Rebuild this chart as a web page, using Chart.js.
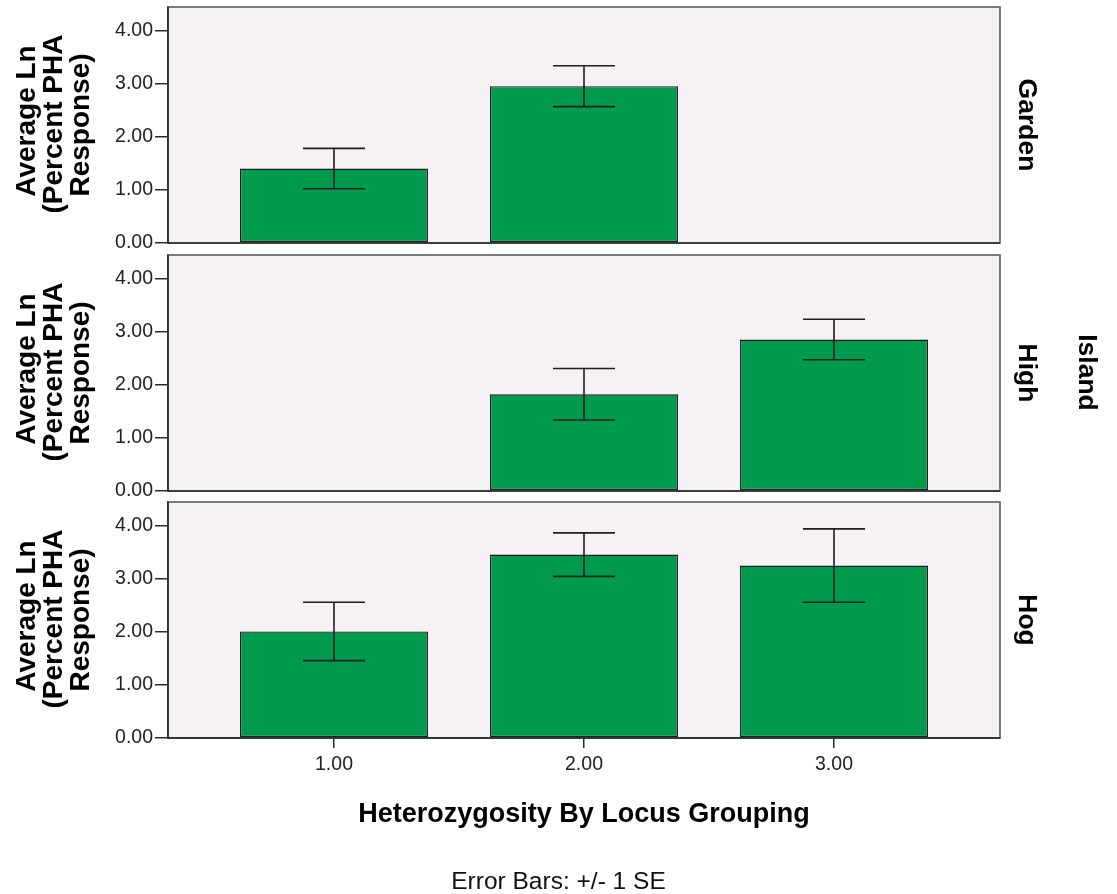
<!DOCTYPE html>
<html>
<head>
<meta charset="utf-8">
<script src="https://cdn.jsdelivr.net/npm/chart.js@4.4.0/dist/chart.umd.min.js"></script>
<style>
html, body { margin: 0; padding: 0; background: #ffffff; }
#wrap { position: relative; width: 1117px; height: 894px; overflow: hidden; }
#wrap canvas { position: absolute; left: 0; }
</style>
</head>
<body>
<div id="wrap">
  <canvas id="c0" width="1117" height="894"></canvas>
  <canvas id="c1" width="1117" height="894"></canvas>
  <canvas id="c2" width="1117" height="894"></canvas>
</div>
<script>
// ---------- data ----------
const categories = [1, 2, 3];
const xTickLabels = ['1.00', '2.00', '3.00'];
const yTicks = [0, 1, 2, 3, 4];
const yTickLabels = ['0.00', '1.00', '2.00', '3.00', '4.00'];
const panelNames = ['Garden', 'High', 'Hog'];
const facetTitle = 'Island';
const gardenMeans = [1.40, 2.95, null];
const gardenSE    = [0.38, 0.385, null];
const highMeans   = [null, 1.82, 2.85];
const highSE      = [null, 0.485, 0.38];
const hogMeans    = [2.005, 3.45, 3.245];
const hogSE       = [0.55, 0.41, 0.69];
const yTitleLines = ['Average Ln', '(Percent PHA', 'Response)'];
const xTitle = 'Heterozygosity By Locus Grouping';
const footnote = 'Error Bars: +/- 1 SE';

// ---------- layout / style ----------
const W = 1117, H = 894;
const PLOT_LEFT = 168, PLOT_RIGHT = 1000;
const PANEL_Y = [[7, 243], [255, 491], [502, 738]];
const CANVAS_SHIFT = [40, 0, 0];
const X_MIN = 0.336, X_MAX = 3.664, Y_MAX = 4.44;
const FONT = "'Liberation Sans', Arial, Helvetica, sans-serif";
const GREEN = '#009A4E';
const PANEL_BG = '#F5F1F5';
const AXIS = '#2a2a2a';
const FRAME = '#5c5c5c';

function panelPlugin(i, isLast) {
  return {
    id: 'panelDeco' + i,
    beforeDraw(chart) {
      const a = chart.chartArea, ctx = chart.ctx;
      ctx.save();
      ctx.fillStyle = PANEL_BG;
      ctx.fillRect(a.left, a.top, a.right - a.left, a.bottom - a.top);
      ctx.restore();
    },
    afterDatasetsDraw(chart) {
      const ctx = chart.ctx, a = chart.chartArea;
      const xs = chart.scales.x, ys = chart.scales.y;
      const meta = chart.getDatasetMeta(0);
      const ds = chart.data.datasets[0].data;
      ctx.save();
      ctx.strokeStyle = '#1e1e1e';
      ctx.lineWidth = 1.6;
      meta.data.forEach((bar, k) => {
        const p = ds[k];
        const x = xs.getPixelForValue(p.x);
        const yHi = ys.getPixelForValue(p.y + p.se);
        const yLo = ys.getPixelForValue(p.y - p.se);
        const half = bar.width * 0.165;
        ctx.beginPath();
        ctx.moveTo(x, yHi); ctx.lineTo(x, yLo);
        ctx.moveTo(x - half, yHi); ctx.lineTo(x + half, yHi);
        ctx.moveTo(x - half, yLo); ctx.lineTo(x + half, yLo);
        ctx.stroke();
      });
      // frame
      ctx.strokeStyle = FRAME;
      ctx.lineWidth = 1.6;
      ctx.strokeRect(a.left, a.top, a.right - a.left, a.bottom - a.top);
      ctx.strokeStyle = AXIS;
      ctx.beginPath();
      ctx.moveTo(a.left, a.top); ctx.lineTo(a.left, a.bottom); ctx.lineTo(a.right, a.bottom);
      ctx.stroke();
      ctx.restore();
    },
    afterDraw(chart) {
      const ctx = chart.ctx, a = chart.chartArea;
      const cy = (a.top + a.bottom) / 2;
      ctx.save();
      ctx.fillStyle = '#000';
      // y-axis title (three lines, rotated)
      ctx.font = 'bold 28px ' + FONT;
      ctx.textAlign = 'center';
      ctx.textBaseline = 'alphabetic';
      const baseX = [35, 62, 89];
      const lineShift = [-4, -1, 0];
      yTitleLines.forEach((t, k) => {
        ctx.save();
        ctx.translate(baseX[k], cy + lineShift[k]);
        ctx.rotate(-Math.PI / 2);
        ctx.fillText(t, 0, 0);
        ctx.restore();
      });
      // panel label on the right
      ctx.font = 'bold 26.5px ' + FONT;
      ctx.save();
      ctx.translate(1019, cy);
      ctx.rotate(Math.PI / 2);
      ctx.fillText(panelNames[i], 0, 0);
      ctx.restore();
      if (isLast) {
        // facet title
        const midY = (PANEL_Y[0][0] + PANEL_Y[2][1]) / 2;
        ctx.save();
        ctx.translate(1079, midY);
        ctx.rotate(Math.PI / 2);
        ctx.fillText(facetTitle, 0, 0);
        ctx.restore();
        // x title
        ctx.font = 'bold 27px ' + FONT;
        ctx.fillText(xTitle, (a.left + a.right) / 2, 822);
        // footnote
        ctx.font = '24.5px ' + FONT;
        ctx.fillStyle = '#111';
        ctx.fillText(footnote, W / 2, 889);
      }
      ctx.restore();
    }
  };
}

function buildPanel(i, means, ses, showX) {
  const shift = CANVAS_SHIFT[i];
  const top = PANEL_Y[i][0] + shift, bottom = PANEL_Y[i][1] + shift;
  const canvas = document.getElementById('c' + i);
  canvas.style.top = (-shift) + 'px';
  const pts = [];
  categories.forEach((c, k) => {
    if (means[k] != null) pts.push({ x: c, y: means[k], se: ses[k] });
  });
  return new Chart(canvas, {
    type: 'bar',
    data: {
      datasets: [{
        data: pts,
        backgroundColor: GREEN,
        borderColor: '#1e1e1e',
        borderWidth: 1.4,
        borderSkipped: false,
        barPercentage: 0.752,
        categoryPercentage: 1
      }]
    },
    options: {
      responsive: false,
      animation: false,
      devicePixelRatio: 1,
      layout: {
        autoPadding: false,
        padding: { left: 0, right: W - PLOT_RIGHT, top: top, bottom: showX ? 0 : H - bottom }
      },
      plugins: { legend: { display: false }, tooltip: { enabled: false } },
      scales: {
        x: {
          type: 'linear',
          min: X_MIN, max: X_MAX,
          display: showX,
          offset: false,
          afterBuildTicks: s => { s.ticks = categories.map(v => ({ value: v })); },
          afterFit: s => { s.height = showX ? H - bottom : 0; },
          grid: { display: true, offset: false, drawOnChartArea: false, drawTicks: true, tickLength: 10, color: AXIS, lineWidth: 1.5 },
          border: { display: true, color: AXIS, width: 1.5 },
          ticks: {
            padding: 5, color: '#222', autoSkip: false, maxRotation: 0,
            font: { family: FONT, size: 19.5 },
            callback: v => xTickLabels[categories.indexOf(v)]
          }
        },
        y: {
          min: 0, max: Y_MAX,
          afterBuildTicks: s => { s.ticks = yTicks.map(v => ({ value: v })); },
          afterFit: s => { s.width = PLOT_LEFT; },
          grid: { display: true, drawOnChartArea: false, drawTicks: true, tickLength: 13, color: AXIS, lineWidth: 1.5 },
          border: { display: true, color: AXIS, width: 1.5 },
          ticks: {
            padding: 2, color: '#222',
            font: { family: FONT, size: 19.5 },
            callback: v => yTickLabels[yTicks.indexOf(v)]
          }
        }
      }
    },
    plugins: [panelPlugin(i, showX)]
  });
}

buildPanel(0, gardenMeans, gardenSE, false);
buildPanel(1, highMeans, highSE, false);
buildPanel(2, hogMeans, hogSE, true);
</script>
</body>
</html>
